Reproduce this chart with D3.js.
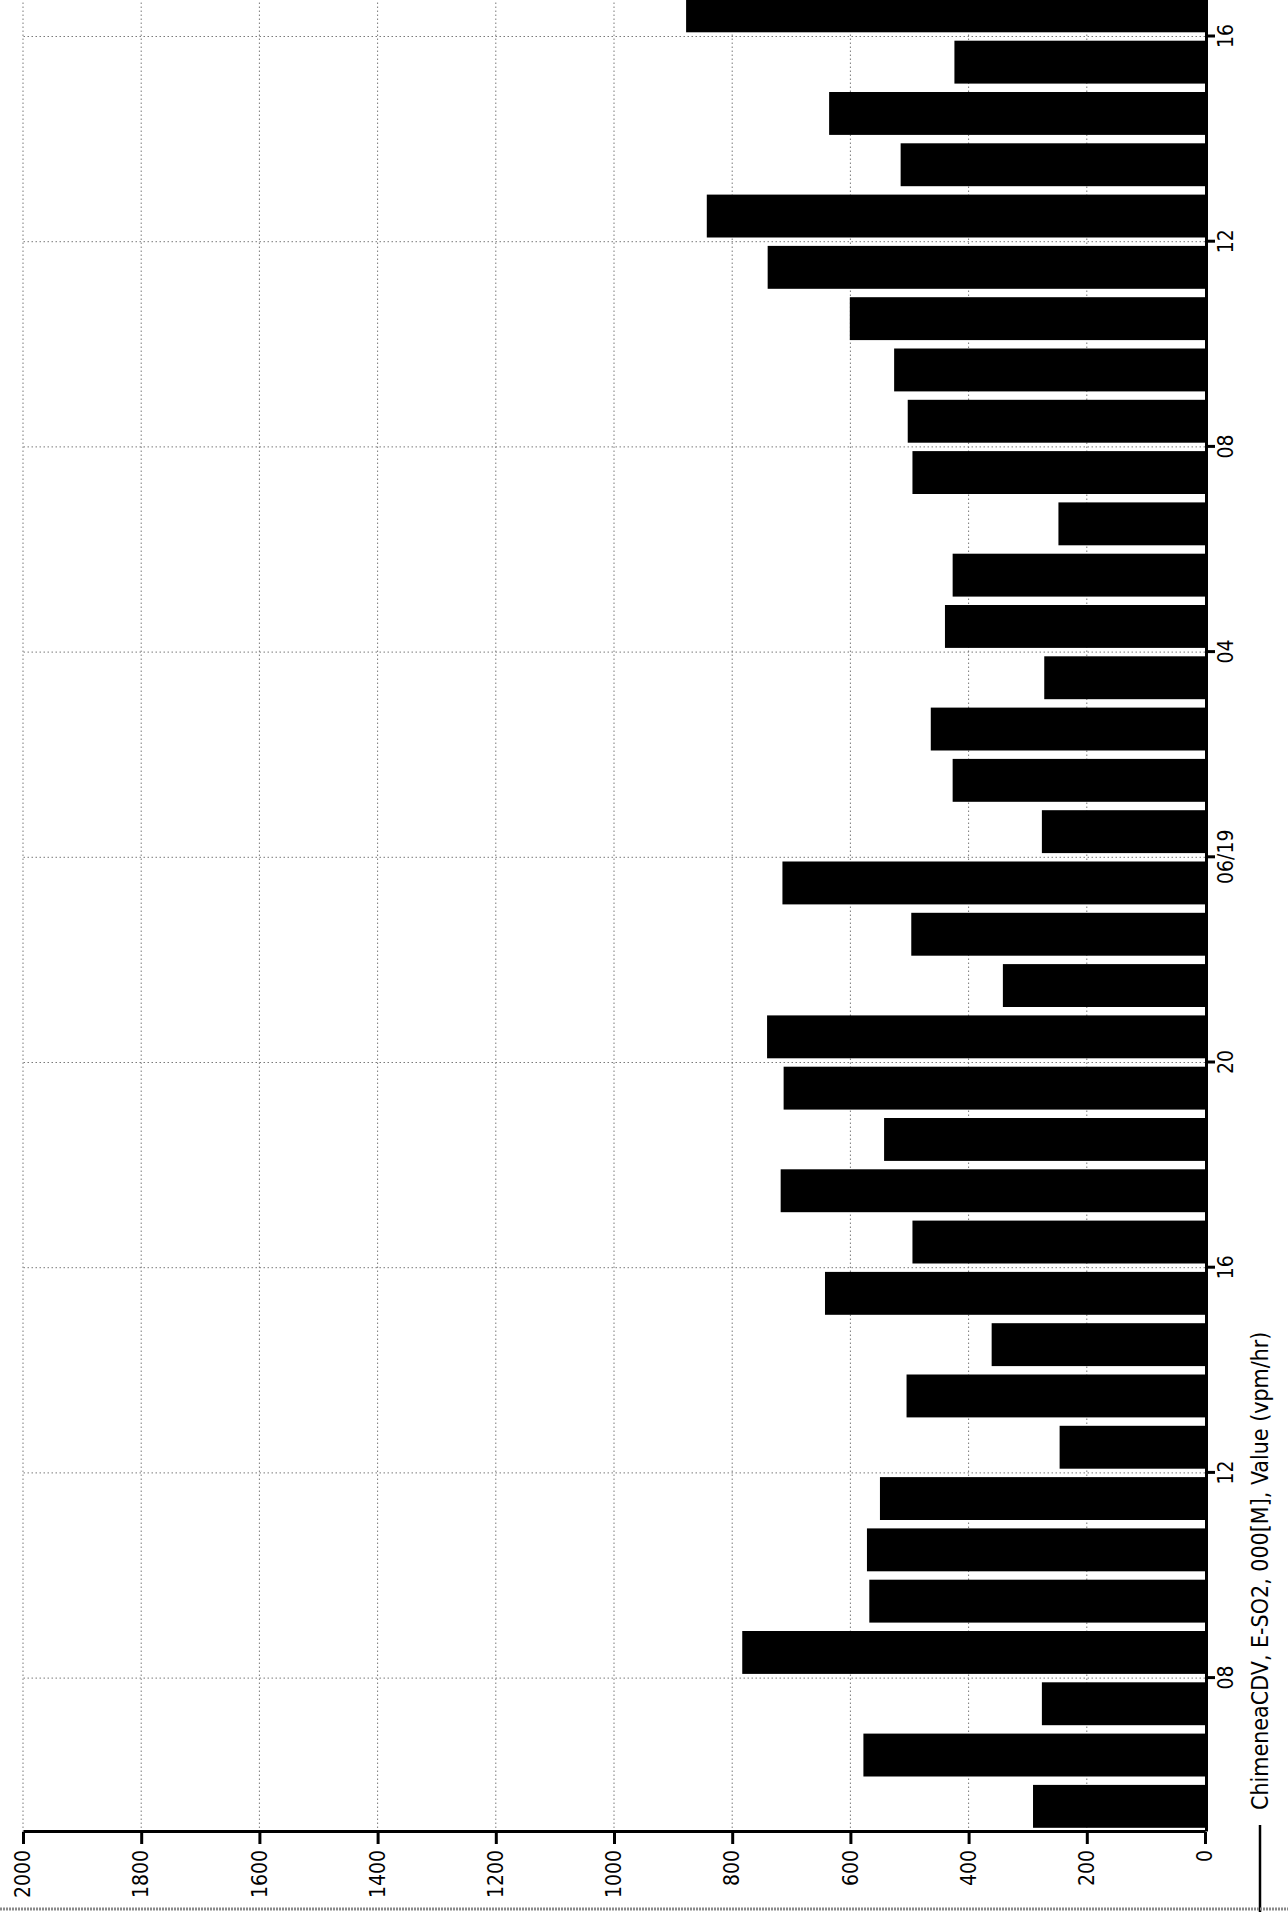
<html>
<head>
<meta charset="utf-8">
<title>ChimeneaCDV E-SO2</title>
<script src="https://d3js.org/d3.v7.min.js"></script>
<style>
body { margin: 0; background: #fff; }
svg { display: block; }
.lbl {
	font-family: "Liberation Sans Narrow", "Arial Narrow", "DejaVu Sans Condensed", sans-serif;
	font-stretch: condensed;
	fill: #000;
}
.grid line { stroke: #7a7a7a; stroke-width: 1; stroke-dasharray: 1.5,2.5; }
</style>
</head>
<body>
<script>
// page size - the scanned chart is turned a quarter turn
var width = 1288;
var height = 1917;

// hourly values, 06/18 05h -> 06/19 16h
var hours = [
	"06/18 05", "06/18 06", "06/18 07", "06/18 08", "06/18 09", "06/18 10",
	"06/18 11", "06/18 12", "06/18 13", "06/18 14", "06/18 15", "06/18 16",
	"06/18 17", "06/18 18", "06/18 19", "06/18 20", "06/18 21", "06/18 22",
	"06/18 23", "06/19 00", "06/19 01", "06/19 02", "06/19 03", "06/19 04",
	"06/19 05", "06/19 06", "06/19 07", "06/19 08", "06/19 09", "06/19 10",
	"06/19 11", "06/19 12", "06/19 13", "06/19 14", "06/19 15", "06/19 16"
];
var values = [
	291, 578, 276, 783, 568, 572,
	550, 246, 505, 361, 643, 495,
	718, 543, 713, 741, 342, 497,
	715, 276, 427, 464, 272, 440,
	427, 248, 495, 503, 526, 601,
	740, 843, 515, 636, 424, 878
];
var valueTicks = [0, 200, 400, 600, 800, 1000, 1200, 1400, 1600, 1800, 2000];
var timeTicks = ["06/18 08", "06/18 12", "06/18 16", "06/18 20", "06/19 00", "06/19 04", "06/19 08", "06/19 12", "06/19 16"];
var timeStart = "06/18 05";
var timeEnd = "06/19 17";
var seriesName = "ChimeneaCDV, E-SO2, 000[M], Value (vpm/hr)";

var parse = d3.timeParse("%m/%d %H");
var data = hours.map(function(h, i) { return { t: parse(h), v: values[i] }; });

var svg = d3.select("body")
	.append("svg")
	.attr("width", width)
	.attr("height", height);

// the chart is built upright (time along x, value up y) and then rotated -90deg
var g = svg.append("g")
	.attr("transform", "translate(0," + height + ") rotate(-90)");

var x = d3.scaleTime()
	.domain([parse(timeStart), parse(timeEnd)])
	.range([85, 85 + 36 * 51.3]);

var y = d3.scaleLinear()
	.domain([0, 2000])
	.range([1205, 23]);

//grid lines
var grid = g.append("g").attr("class", "grid");
grid.selectAll("line.h")
	.data(valueTicks.filter(function(d) { return d > 0; }))
	.enter().append("line")
	.attr("class", "h")
	.attr("x1", x.range()[0]).attr("x2", x.range()[1])
	.attr("y1", function(d) { return y(d); })
	.attr("y2", function(d) { return y(d); });
grid.selectAll("line.v")
	.data(timeTicks.map(parse))
	.enter().append("line")
	.attr("class", "v")
	.attr("x1", function(d) { return x(d); })
	.attr("x2", function(d) { return x(d); })
	.attr("y1", y(0)).attr("y2", y(2000));

//bars, one per hour
g.selectAll("rect")
	.data(data)
	.enter().append("rect")
	.attr("x", function(d) { return x(d.t) + 4.2; })
	.attr("width", function(d) { return x(d3.timeHour.offset(d.t, 1)) - x(d.t) - 8.4; })
	.attr("y", function(d) { return y(d.v); })
	.attr("height", function(d) { return y(0) - y(d.v); })
	.attr("fill", "#000");

//value axis
var yAxis = g.append("g")
	.attr("transform", "translate(" + x.range()[0] + ",0)")
	.call(d3.axisLeft(y).tickValues(valueTicks).tickSize(12).tickSizeOuter(0).tickPadding(6).tickFormat(d3.format("d")));

//time axis
var fmtTime = function(d) { return d.getHours() === 0 ? d3.timeFormat("%m/%d")(d) : d3.timeFormat("%H")(d); };
var xAxis = g.append("g")
	.attr("transform", "translate(0," + (y(0) + 1) + ")")
	.call(d3.axisBottom(x).tickValues(timeTicks.map(parse)).tickSize(9).tickSizeOuter(0).tickPadding(3).tickFormat(fmtTime));

[yAxis, xAxis].forEach(function(a) {
	a.select(".domain").attr("stroke", "#000").attr("stroke-width", 3);
	a.selectAll(".tick line").attr("stroke", "#000").attr("stroke-width", 3);
	a.selectAll(".tick text").attr("class", "lbl").attr("font-size", 21).attr("font-family", null);
});

//legend
var leg = g.append("g").attr("transform", "translate(0,1260)");
leg.append("line")
	.attr("x1", 5).attr("x2", 92)
	.attr("stroke", "#000").attr("stroke-width", 2.5);
leg.append("text")
	.attr("class", "lbl")
	.attr("x", 107)
	.attr("dy", "0.35em")
	.attr("font-size", 23)
	.text(seriesName);

//scan edge at the bottom
svg.append("line")
	.attr("x1", 0).attr("x2", width)
	.attr("y1", 1909).attr("y2", 1909)
	.attr("stroke", "#8a8a8a").attr("stroke-width", 3)
	.attr("stroke-dasharray", "2,1");
</script>
</body>
</html>
